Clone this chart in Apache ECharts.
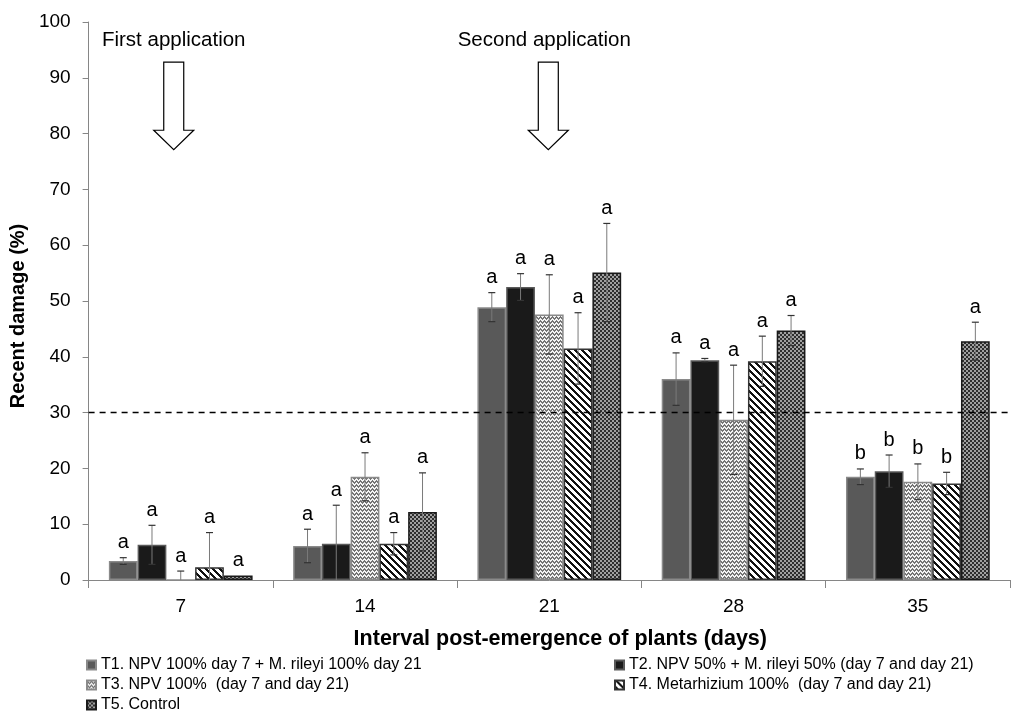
<!DOCTYPE html>
<html><head><meta charset="utf-8">
<script src="https://cdn.jsdelivr.net/npm/echarts@6/dist/echarts.min.js"></script>
<style>html,body{margin:0;padding:0;background:#fff}#c{width:1023px;height:720px}</style>
</head><body><div id="c"></div>
<script>
// ---- data ----
const categories = ['7', '14', '21', '28', '35'];
const seriesNames = [
  'T1. NPV 100% day 7 + M. rileyi 100% day 21',
  'T2. NPV 50% + M. rileyi 50% (day 7 and day 21)',
  'T3. NPV 100%  (day 7 and day 21)',
  'T4. Metarhizium 100%  (day 7 and day 21)',
  'T5. Control'
];
const t1 = [3.4, 6.1, 48.9, 36.0, 18.5];
const t2 = [6.3, 6.5, 52.5, 39.4, 19.5];
const t3 = [0.0, 18.5, 47.6, 28.7, 17.6];
const t4 = [2.3, 6.5, 41.5, 39.2, 17.3];
const t5 = [0.8, 12.2, 55.1, 44.7, 42.8];
const e1 = [0.6, 3.0, 2.6, 4.7, 1.4];
const e2 = [3.5, 6.9, 2.4, 0.3, 2.9];
const e3 = [1.6, 4.3, 7.1, 9.8, 3.2];
const e4 = [6.2, 2.0, 6.4, 4.5, 2.0];
const e5 = [0.0, 7.0, 8.8, 2.7, 3.4];
const g1 = ['a', 'a', 'a', 'a', 'b'];
const g2 = ['a', 'a', 'a', 'a', 'b'];
const g3 = ['a', 'a', 'a', 'a', 'b'];
const g4 = ['a', 'a', 'a', 'a', 'b'];
const g5 = ['a', 'a', 'a', 'a', 'a'];
const yMin = 0, yMax = 100, yInterval = 10;
const threshold = 30;
const annotationTexts = ['First application', 'Second application'];
const annotationCats = ['7', '21'];
const arrowValues = { text: 96.8, shaftTop: 92.8, headBase: 80.6, tip: 77.1 };

const values = [t1, t2, t3, t4, t5];
const errors = [e1, e2, e3, e4, e5];
const letters = [g1, g2, g3, g4, g5];

// ---- patterns ----
function tile(w, h, fn) {
  const c = document.createElement('canvas');
  c.width = w; c.height = h;
  const ctx = c.getContext('2d');
  fn(ctx, w, h);
  return { image: c, repeat: 'repeat' };
}
const patT3 = tile(4, 4, (ctx, w, h) => {
  ctx.fillStyle = '#f4f4f4'; ctx.fillRect(0, 0, w, h);
  ctx.fillStyle = '#747474';
  const z = [0, 1, 2, 1];
  for (let x = 0; x < w; x++) for (let y = 0; y < h; y++) {
    const m = ((y - z[x]) % 4 + 4) % 4;
    if (m === 0 || m === 1) ctx.fillRect(x, y, 1, 1);
  }
});
const patT4 = tile(7, 7, (ctx, w, h) => {
  ctx.fillStyle = '#ffffff'; ctx.fillRect(0, 0, w, h);
  ctx.fillStyle = '#111111';
  for (let x = 0; x < w; x++) for (let y = 0; y < h; y++) {
    if (((x - y) % 7 + 7) % 7 < 3) ctx.fillRect(x, y, 1, 1);
  }
});
const patT5 = tile(4, 4, (ctx, w, h) => {
  ctx.fillStyle = '#2e2e2e'; ctx.fillRect(0, 0, w, h);
  ctx.fillStyle = '#a0a0a0';
  ctx.fillRect(0, 0, 2, 2); ctx.fillRect(2, 2, 2, 2);
});
const fills = ['#595959', '#1a1a1a', patT3, patT4, patT5];
const borders = ['#8a8a8a', '#5a5a5a', '#8a8a8a', '#333333', '#1a1a1a'];

const FONT = '"Liberation Sans", Arial, sans-serif';
const catGap = 0.22;

const barSeries = values.map((arr, i) => ({
  type: 'bar',
  name: seriesNames[i],
  data: arr,
  barGap: '0%',
  barCategoryGap: (catGap * 100) + '%',
  itemStyle: { color: fills[i], borderColor: borders[i], borderWidth: 1.5 },
  emphasis: { disabled: true },
  markLine: i === 0 ? {
    silent: true, symbol: 'none', label: { show: false },
    lineStyle: { type: [6, 5], color: '#000', width: 1.3 },
    data: [{ yAxis: threshold }]
  } : undefined,
  z: 2
}));

const errData = [];
values.forEach((arr, si) => arr.forEach((v, ci) => errData.push([ci, si, v, errors[si][ci]])));

const errSeries = {
  type: 'custom',
  data: errData,
  z: 5,
  silent: true,
  renderItem(params, api) {
    const ci = api.value(0), si = api.value(1), v = api.value(2), e = api.value(3);
    const band = api.size([1, 0])[0];
    const groupW = band * (1 - catGap);
    const bw = groupW / 5;
    const base = api.coord([ci, 0]);
    const cx = base[0] - groupW / 2 + (si + 0.5) * bw;
    const yTop = api.coord([ci, v + e])[1];
    const yBot = api.coord([ci, Math.max(0, v - e)])[1];
    const children = [];
    if (e > 0) {
      children.push({ type: 'line', shape: { x1: cx, y1: yTop, x2: cx, y2: yBot }, style: { stroke: '#7a7a7a', lineWidth: 1 } });
      children.push({ type: 'line', shape: { x1: cx - 3.5, y1: yTop, x2: cx + 3.5, y2: yTop }, style: { stroke: '#333', lineWidth: 1.2 } });
      if (v - e > 0) children.push({ type: 'line', shape: { x1: cx - 3.5, y1: yBot, x2: cx + 3.5, y2: yBot }, style: { stroke: '#333', lineWidth: 1.2 } });
    }
    children.push({
      type: 'text',
      style: { text: letters[si][ci], x: cx, y: yTop - 5, align: 'center', verticalAlign: 'bottom', font: '20px ' + FONT, fill: '#000' }
    });
    return { type: 'group', children };
  }
};

const legendText = { fontFamily: FONT, fontSize: 16, color: '#000', lineHeight: 16 };
const option = {
  backgroundColor: '#fff',
  animation: false,
  grid: { left: 88, right: 13, top: 22, bottom: 140 },
  legend: [
    { data: [seriesNames[0], seriesNames[2], seriesNames[4]], orient: 'vertical', left: 86, top: 657, padding: 0, itemWidth: 9, itemHeight: 9, itemGap: 4, icon: 'rect', textStyle: legendText, selectedMode: false },
    { data: [seriesNames[1], seriesNames[3]], orient: 'vertical', left: 614, top: 657, padding: 0, itemWidth: 9, itemHeight: 9, itemGap: 4, icon: 'rect', textStyle: legendText, selectedMode: false }
  ],
  xAxis: {
    type: 'category', data: categories,
    name: 'Interval post-emergence of plants (days)', nameLocation: 'middle', nameGap: 48,
    nameTextStyle: { fontFamily: FONT, fontSize: 21.5, fontWeight: 'bold', color: '#000', padding: [0, 0, 0, 22] },
    axisLine: { lineStyle: { color: '#868686', width: 1 } },
    axisTick: { show: true, length: 8, interval: 0, lineStyle: { color: '#868686' } },
    axisLabel: { fontFamily: FONT, fontSize: 19, color: '#000', margin: 17 },
    splitLine: { show: false }
  },
  yAxis: {
    type: 'value', min: yMin, max: yMax, interval: yInterval,
    name: 'Recent damage (%)', nameLocation: 'middle', nameGap: 55,
    nameTextStyle: { fontFamily: FONT, fontSize: 20, fontWeight: 'bold', color: '#000', padding: [0, 30, 0, 0] },
    axisLine: { show: true, lineStyle: { color: '#868686', width: 1 } },
    axisTick: { show: true, length: 6, lineStyle: { color: '#868686' } },
    axisLabel: { fontFamily: FONT, fontSize: 19, color: '#000', margin: 18 },
    splitLine: { show: false }
  },
  series: [...barSeries, errSeries]
};

const chart = echarts.init(document.getElementById('c'), null, { renderer: 'canvas' });
chart.setOption(option);

// ---- annotation arrows ----
const arrowDx = [-7, -1];
const graphics = [];
annotationCats.forEach((cat, k) => {
  const x = chart.convertToPixel({ xAxisIndex: 0 }, cat) + arrowDx[k];
  const yT = chart.convertToPixel({ yAxisIndex: 0 }, arrowValues.text);
  const yS = chart.convertToPixel({ yAxisIndex: 0 }, arrowValues.shaftTop);
  const yH = chart.convertToPixel({ yAxisIndex: 0 }, arrowValues.headBase);
  const yP = chart.convertToPixel({ yAxisIndex: 0 }, arrowValues.tip);
  graphics.push({
    type: 'text', x: x + (k === 1 ? -4 : 0), y: yT,
    style: { text: annotationTexts[k], font: '20.5px ' + FONT, fill: '#000', align: 'center', verticalAlign: 'middle' }
  });
  graphics.push({
    type: 'polygon',
    shape: { points: [[x - 10, yS], [x + 10, yS], [x + 10, yH], [x + 20, yH], [x, yP], [x - 20, yH], [x - 10, yH]] },
    style: { fill: '#fff', stroke: '#000', lineWidth: 1.2 }
  });
});
chart.setOption({ graphic: graphics });
</script>
</body></html>
